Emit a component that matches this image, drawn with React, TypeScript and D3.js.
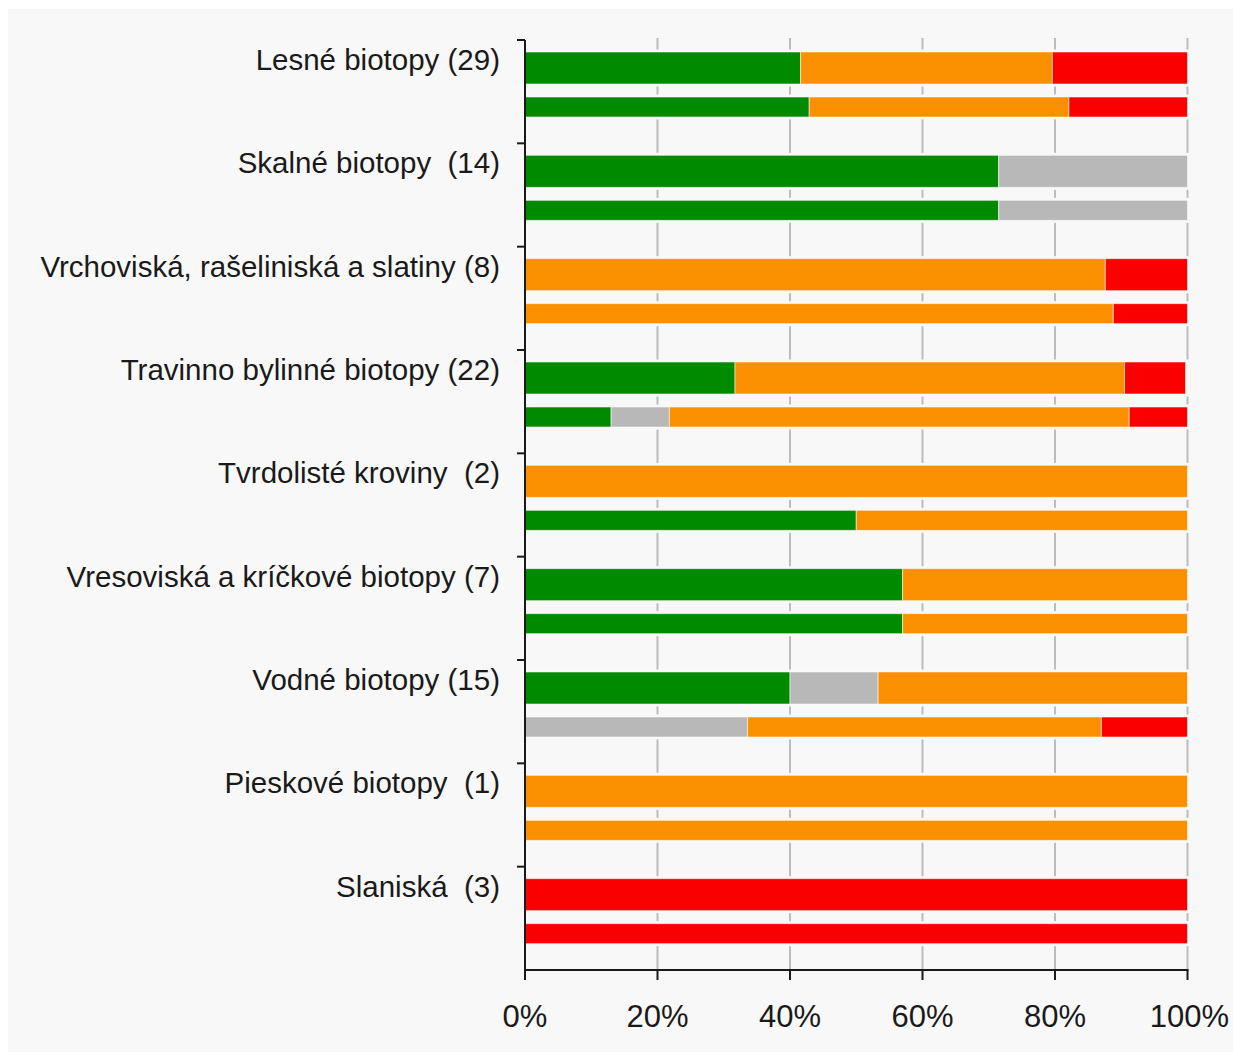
import React from "react";
import * as d3 from "d3";

const categories = [
  "Lesné biotopy (29)",
  "Skalné biotopy  (14)",
  "Vrchoviská, rašeliniská a slatiny (8)",
  "Travinno bylinné biotopy (22)",
  "Tvrdolisté kroviny  (2)",
  "Vresoviská a kríčkové biotopy (7)",
  "Vodné biotopy (15)",
  "Pieskové biotopy  (1)",
  "Slaniská  (3)",
];

const seriesKeys = ["green", "gray", "orange", "red"];
const seriesColors = ["#008a00", "#b8b8b8", "#fa8f00", "#fa0000"];

// First (upper, thicker) bar of each category, percent
const greenA = [41.6, 71.5, 0, 31.7, 0, 57.0, 40.0, 0, 0];
const grayA = [0, 28.5, 0, 0, 0, 0, 13.3, 0, 0];
const orangeA = [38.0, 0, 87.6, 58.8, 100, 43.0, 46.7, 100, 0];
const redA = [20.4, 0, 12.4, 9.2, 0, 0, 0, 0, 100];

// Second (lower, thinner) bar of each category, percent
const greenB = [42.9, 71.5, 0, 13.0, 50, 57.0, 0, 0, 0];
const grayB = [0, 28.5, 0, 8.8, 0, 0, 33.6, 0, 0];
const orangeB = [39.2, 0, 88.8, 69.4, 50, 43.0, 53.4, 100, 0];
const redB = [17.9, 0, 11.2, 8.8, 0, 0, 13.0, 0, 100];

const xTicks = [0, 20, 40, 60, 80, 100];

const FONT = "'Liberation Sans', Arial, sans-serif";

function buildRows(g: number[], gr: number[], o: number[], r: number[]) {
  return categories.map((c, i) => ({ cat: c, green: g[i], gray: gr[i], orange: o[i], red: r[i] }));
}

export default function App() {
  const left = 525;
  const right = 1187.5;
  const top = 40;
  const bottom = 970;

  const x = d3.scaleLinear().domain([0, 100]).range([left, right]);
  const y = d3.scaleBand<string>().domain(categories).range([top, bottom]).padding(0);

  const stack = d3.stack<any>().keys(seriesKeys);
  const stackA = stack(buildRows(greenA, grayA, orangeA, redA));
  const stackB = stack(buildRows(greenB, grayB, orangeB, redB));

  const bars = [
    { layers: stackA, off: 12, h: 32 },
    { layers: stackB, off: 57, h: 20 },
  ];

  return (
    <svg
      width={1233}
      height={1052}
      style={{ display: "block", position: "absolute", left: 0, top: 0 }}
    >
      <rect x={8} y={9} width={1225} height={1043} fill="#f8f8f8" />
      {/* gridlines */}
      {xTicks.slice(1).map((t) => (
        <line key={"g" + t} x1={x(t)} x2={x(t)} y1={38} y2={bottom} stroke="#bcbcbc" strokeWidth={2} />
      ))}
      {/* background pads behind bars */}
      {categories.map((c) =>
        bars.map((b, bi) => (
          <rect
            key={"pad" + c + bi}
            x={left}
            y={(y(c) as number) + b.off - 2.5}
            width={right - left + 4}
            height={b.h + 5}
            fill="#f8f8f8"
          />
        ))
      )}
      {/* bars */}
      {bars.map((b, bi) =>
        b.layers.map((layer, li) =>
          layer.map((d: any, di: number) => {
            const w = x(d[1]) - x(d[0]);
            if (w <= 0.01) return null;
            return (
              <rect
                key={`b${bi}-${li}-${di}`}
                x={x(d[0])}
                y={(y(categories[di]) as number) + b.off}
                width={w}
                height={b.h}
                fill={seriesColors[li]}
                stroke="rgba(255,255,255,0.55)"
                strokeWidth={1}
              />
            );
          })
        )
      )}
      {/* y axis */}
      <line x1={left} x2={left} y1={top} y2={bottom} stroke="#1a1a1a" strokeWidth={2} />
      {categories.map((c) => (
        <line key={"yt" + c} x1={517} x2={left} y1={y(c) as number} y2={y(c) as number} stroke="#1a1a1a" strokeWidth={2} />
      ))}
      {/* x axis */}
      <line x1={left - 1} x2={right + 1} y1={bottom} y2={bottom} stroke="#1a1a1a" strokeWidth={2} />
      {xTicks.map((t) => (
        <line key={"xt" + t} x1={x(t)} x2={x(t)} y1={bottom} y2={980} stroke="#1a1a1a" strokeWidth={2} />
      ))}
      {xTicks.map((t) => (
        <text
          key={"xl" + t}
          x={x(t) + (t === 100 ? 2 : 0)}
          y={1027}
          textAnchor="middle"
          fontFamily={FONT}
          fontSize={31}
          fill="#1a1a1a"
        >
          {t + "%"}
        </text>
      ))}
      {/* category labels */}
      {categories.map((c) => (
        <text
          key={"cl" + c}
          x={500}
          y={(y(c) as number) + 30}
          textAnchor="end"
          fontFamily={FONT}
          fontSize={29.5}
          fill="#1a1a1a"
          style={{ whiteSpace: "pre" }}
        >
          {c}
        </text>
      ))}
    </svg>
  );
}
